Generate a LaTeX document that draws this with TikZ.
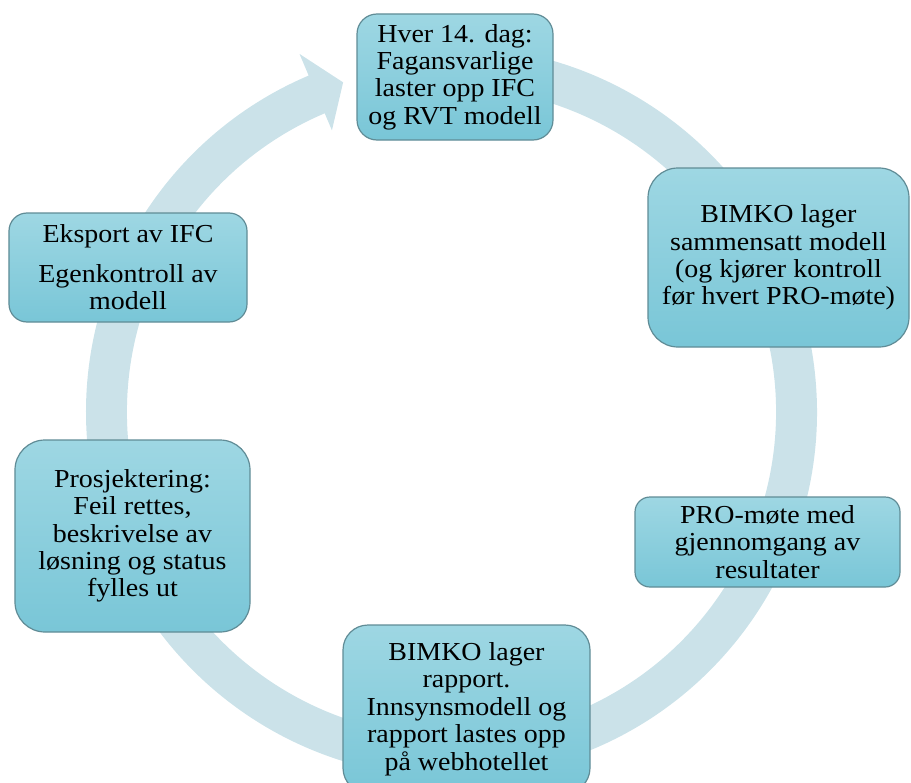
\documentclass[tikz,border=0pt]{standalone}
\usepackage{fontspec}
\setmainfont{Liberation Serif}[FakeStretch=1.08]
\usetikzlibrary{calc}
\definecolor{ringc}{RGB}{203,226,233}
\definecolor{boxtop}{RGB}{158,215,227}
\definecolor{boxbot}{RGB}{121,198,215}
\definecolor{boxedge}{RGB}{96,140,150}
\tikzset{
  box/.style={draw=boxedge, line width=1.2bp, top color=boxtop, bottom color=boxbot,
    rectangle, inner sep=0pt, align=center, font=\fontsize{26}{27.5}\selectfont},
}
\begin{document}
\begin{tikzpicture}[x=1bp,y=-1bp]
\useasboundingbox (0,0) rectangle (911,783);
\coordinate (C) at (451.5,412);
% ring with arrowhead
\fill[ringc] ($(C)+(-95:365.5)$) arc[start angle=-95,end angle=247,radius=365.5]
  -- ($(C)+(247:389)$) -- ($(C)+(251.8:347)$) -- ($(C)+(247:306)$)
  -- ($(C)+(247:324.5)$) arc[start angle=247,end angle=-95,radius=324.5] -- cycle;
% boxes
\node[box, rounded corners=20bp, minimum width=196bp, minimum height=126bp] (top) at (455,77)
  {Hver 14. dag:\\Fagansvarlige\\laster opp IFC\\og RVT modell};
\node[box, rounded corners=30bp, minimum width=261bp, minimum height=179bp] (bimko) at (778.5,257.5)
  {BIMKO lager\\sammensatt modell\\(og kjører kontroll\\før hvert PRO-møte)};
\node[box, rounded corners=15bp, minimum width=265bp, minimum height=90bp] (pro) at (767.5,542)
  {PRO-møte med\\gjennomgang av\\resultater};
\node[box, rounded corners=25bp, minimum width=247bp, minimum height=168bp] (rapport) at (466.5,709)
  {BIMKO lager\\rapport.\\Innsynsmodell og\\rapport lastes opp\\på webhotellet};
\node[box, rounded corners=30bp, minimum width=235bp, minimum height=192bp] (prosj) at (132.5,536)
  {Prosjektering:\\Feil rettes,\\beskrivelse av\\løsning og status\\fylles ut};
\node[box, rounded corners=18bp, minimum width=238bp, minimum height=109bp] (eksport) at (128,267.5)
  {Eksport av IFC\\[12bp]Egenkontroll av\\modell};
\end{tikzpicture}
\end{document}
